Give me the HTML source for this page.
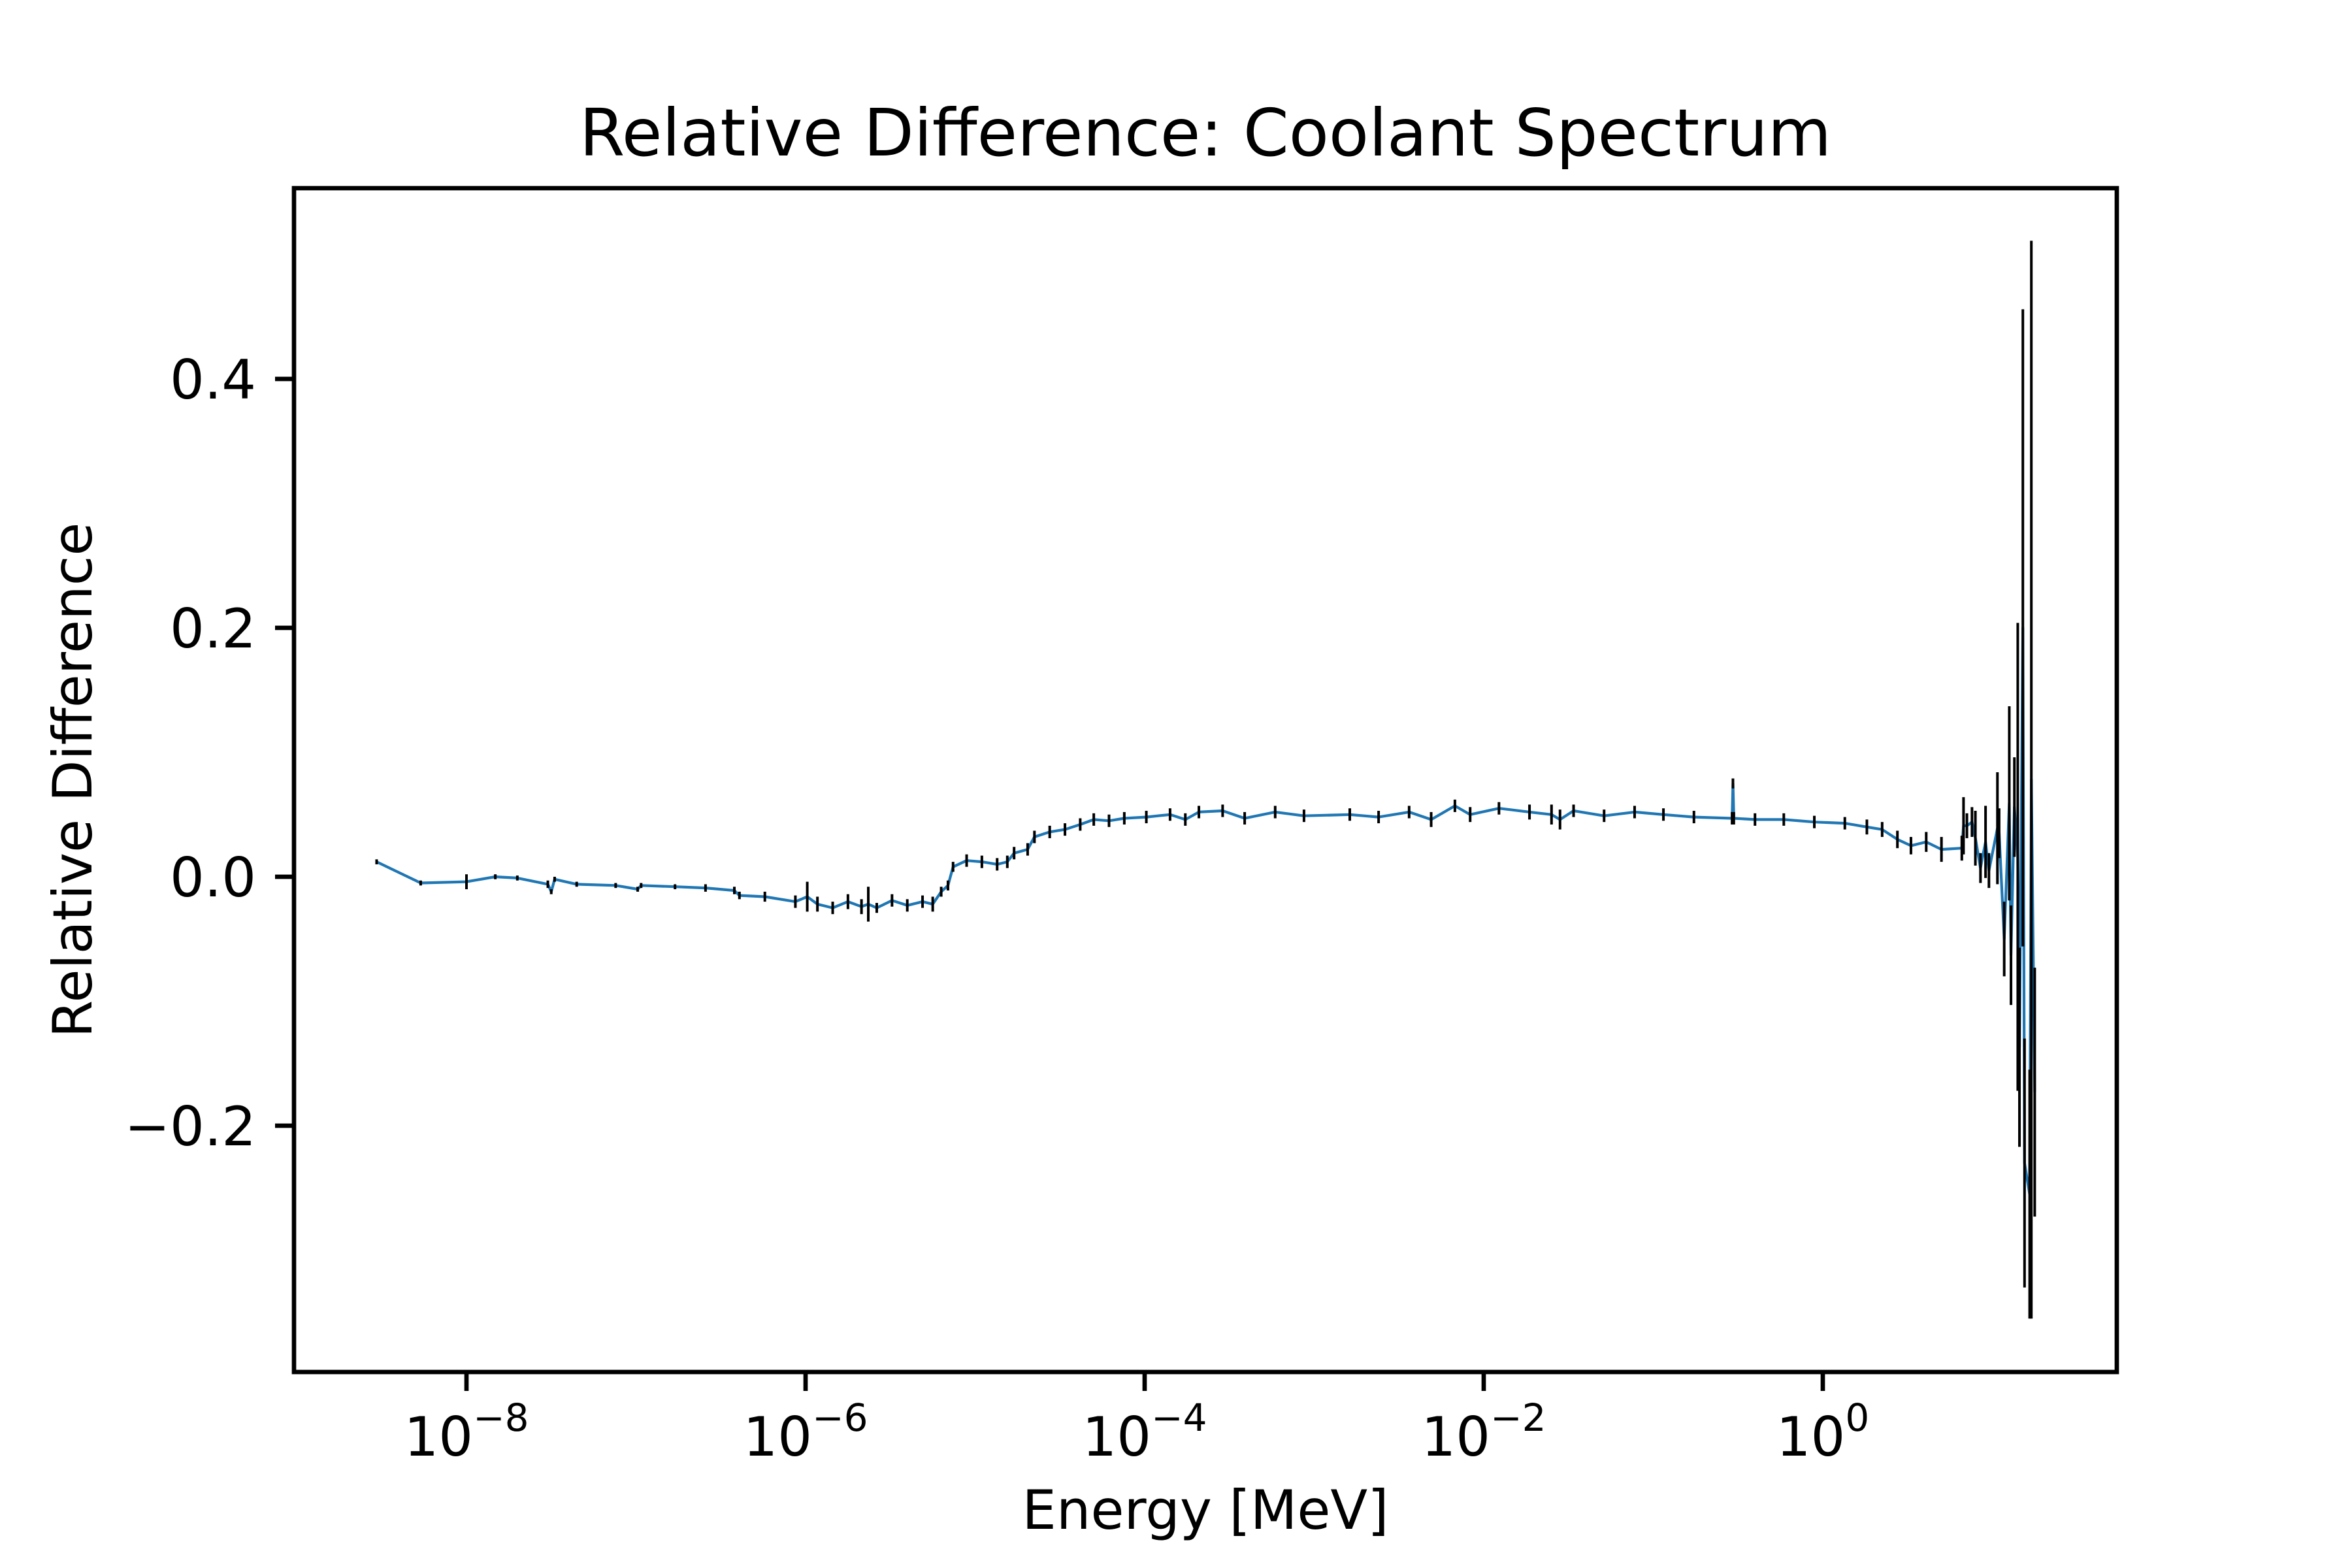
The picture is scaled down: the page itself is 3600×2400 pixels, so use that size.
<!DOCTYPE html>
<html><head><meta charset="utf-8"><style>
html,body{margin:0;padding:0;background:#fff;}
svg{display:block;font-family:"DejaVu Sans","Liberation Sans",sans-serif;}
</style></head><body>
<svg id="chart" width="3600" height="2400" viewBox="0 0 3600 2400" xmlns="http://www.w3.org/2000/svg">
<rect x="0" y="0" width="3600" height="2400" fill="#fff"/>
<text x="1845" y="238" font-size="100" text-anchor="middle">Relative Difference: Coolant Spectrum</text>
<text x="1845" y="2340" font-size="83" text-anchor="middle">Energy [MeV]</text>
<text x="0" y="0" font-size="83" text-anchor="middle" transform="translate(140,1194) rotate(-90)">Relative Difference</text>
<g id="plot"></g>
<g id="axes"></g>
</svg>
<script>
const energyLog = [-8.53,-8.27,-8.00,-7.83,-7.70,-7.52,-7.50,-7.48,-7.35,-7.12,-6.99,-6.97,-6.77,-6.59,-6.42,-6.39,-6.24,-6.06,-5.99,-5.93,-5.84,-5.75,-5.67,-5.63,-5.58,-5.49,-5.40,-5.31,-5.25,-5.20,-5.16,-5.13,-5.05,-4.96,-4.87,-4.81,-4.77,-4.69,-4.65,-4.56,-4.47,-4.38,-4.30,-4.21,-4.12,-3.99,-3.85,-3.76,-3.68,-3.54,-3.41,-3.23,-3.06,-2.79,-2.62,-2.44,-2.31,-2.17,-2.08,-1.91,-1.73,-1.60,-1.55,-1.47,-1.29,-1.11,-0.94,-0.76,-0.535,-0.53,-0.525,-0.40,-0.23,-0.05,0.13,0.26,0.35,0.44,0.52,0.61,0.70,0.82,0.83,0.85,0.88,0.90,0.93,0.96,0.98,1.03,1.04,1.07,1.10,1.11,1.13,1.15,1.16,1.18,1.19,1.22,1.23,1.25];
const relDiff = [0.012,-0.005,-0.004,0.000,-0.001,-0.006,-0.012,-0.002,-0.006,-0.007,-0.010,-0.007,-0.008,-0.009,-0.011,-0.015,-0.016,-0.020,-0.016,-0.022,-0.025,-0.020,-0.024,-0.022,-0.025,-0.019,-0.023,-0.020,-0.022,-0.012,-0.007,0.008,0.013,0.012,0.010,0.012,0.019,0.022,0.032,0.036,0.038,0.042,0.046,0.045,0.047,0.048,0.050,0.046,0.052,0.053,0.047,0.052,0.049,0.050,0.048,0.052,0.046,0.057,0.050,0.055,0.052,0.050,0.046,0.053,0.049,0.052,0.050,0.048,0.047,0.075,0.047,0.046,0.046,0.044,0.043,0.040,0.038,0.030,0.025,0.028,0.022,0.023,0.041,0.041,0.044,0.031,0.007,0.028,0.005,0.039,0.035,-0.050,0.059,-0.063,0.056,0.016,-0.137,0.200,-0.230,-0.255,0.078,-0.173];
const relErr = [0.002,0.002,0.006,0.002,0.002,0.003,0.002,0.002,0.002,0.002,0.002,0.002,0.002,0.003,0.003,0.003,0.004,0.005,0.012,0.006,0.005,0.006,0.006,0.014,0.004,0.005,0.005,0.005,0.006,0.004,0.004,0.004,0.005,0.005,0.005,0.005,0.005,0.005,0.005,0.005,0.005,0.005,0.005,0.005,0.005,0.005,0.005,0.005,0.005,0.005,0.005,0.005,0.005,0.005,0.005,0.005,0.006,0.005,0.006,0.005,0.006,0.008,0.008,0.005,0.005,0.005,0.005,0.005,0.005,0.004,0.005,0.005,0.005,0.005,0.005,0.006,0.006,0.007,0.007,0.008,0.010,0.010,0.023,0.010,0.012,0.022,0.012,0.029,0.014,0.045,0.020,0.030,0.078,0.040,0.040,0.188,0.080,0.256,0.100,0.100,0.433,0.100];
const xTickExp = [-8,-6,-4,-2,0];
const yTicks = [0.4,0.2,0.0,-0.2];
const yTickLabels = ["0.4","0.2","0.0","\u22120.2"];

const L=450,R=3240,T=288,B=2100;
const X0=714, DEC=259.5, Y0=1342, PER=1905;
const xs = v => X0 + (v+8)*DEC;
const ys = v => Y0 - v*PER;
const NS="http://www.w3.org/2000/svg";
const plot=document.getElementById('plot'), axes=document.getElementById('axes');
function mk(tag, parent, attrs){const e=document.createElementNS(NS,tag);for(const k in attrs)e.setAttribute(k,attrs[k]);parent.appendChild(e);return e;}

let d='';
energyLog.forEach((v,i)=>{d+=(i?'L':'M')+xs(v).toFixed(1)+' '+ys(relDiff[i]).toFixed(1);});
const line=mk('path',plot,{d:d,fill:'none',stroke:'#1f77b4','stroke-width':4.2,'stroke-linejoin':'round'});


energyLog.forEach((v,i)=>{
  const eb=mk('line',plot,{x1:xs(v),x2:xs(v),y1:ys(relDiff[i]+relErr[i]),y2:ys(relDiff[i]-relErr[i]),stroke:'#000','stroke-width':4});
  
  
});
const frame=mk('rect',axes,{x:L,y:T,width:R-L,height:B-T,fill:'none',stroke:'#000','stroke-width':6.7});


xTickExp.forEach(e=>{
  const x=xs(e);
  const t=mk('line',axes,{x1:x,x2:x,y1:B,y2:B+29,stroke:'#000','stroke-width':6.7});
  
  
  const lab=mk('text',axes,{x:x,y:B+128,'font-size':83,'text-anchor':'middle'});
  
  
  const a=mk('tspan',lab,{});a.textContent='10';
  const s=mk('tspan',lab,{dy:-38,'font-size':58});s.textContent=(e<0?'\u2212':'')+Math.abs(e);
});
yTicks.forEach((v,i)=>{
  const y=ys(v);
  const t=mk('line',axes,{x1:L-29,x2:L,y1:y,y2:y,stroke:'#000','stroke-width':6.7});
  
  
  const lab=mk('text',axes,{x:L-58,y:y+30,'font-size':83,'text-anchor':'end'});
  
  
  lab.textContent=yTickLabels[i];
});
</script>
</body></html>
